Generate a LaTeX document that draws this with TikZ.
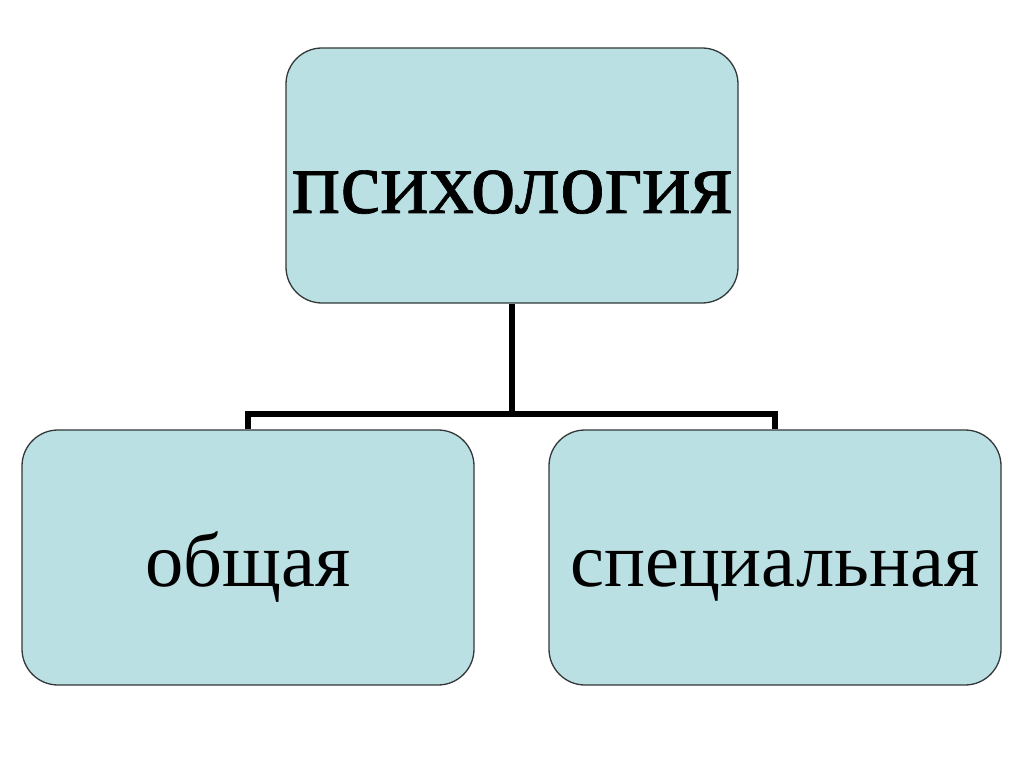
\documentclass[tikz,border=0pt]{standalone}
\usepackage{fontspec}
\setmainfont{Liberation Serif}
\newfontfamily\topfont[FakeBold=0.7]{Liberation Serif}
\definecolor{boxfill}{HTML}{BAE0E3}
\definecolor{boxline}{HTML}{333838}
\begin{document}
\begin{tikzpicture}[x=1pt,y=-1pt,
  box/.style={draw=boxline,line width=1.3pt,fill=boxfill,rounded corners=36pt,
    minimum width=452pt,minimum height=255pt,inner sep=0pt},
  lbl/.style={anchor=base,inner sep=0pt},
  conn/.style={line width=6.5pt,black,line join=miter}]
\useasboundingbox[fill=white] (0,0) rectangle (1024,767);
\node[box] (top) at (512,175.5) {};
\node[box] (left) at (248,557.5) {};
\node[box] (right) at (775,557.5) {};
\node[lbl,font=\topfont\fontsize{90.5}{90.5}\selectfont] (ttop) at (512,213) {психология};
\node[lbl,font=\fontsize{76.5}{76.5}\selectfont] (tleft) at (248,586) {общая};
\node[lbl,font=\fontsize{76.5}{76.5}\selectfont] (tright) at (775,586) {специальная};
\coordinate (j) at (512,414);
\draw[conn] (top.south) -- (j);
\draw[conn] (left.north) |- (j) -| (right.north);
\end{tikzpicture}
\end{document}
